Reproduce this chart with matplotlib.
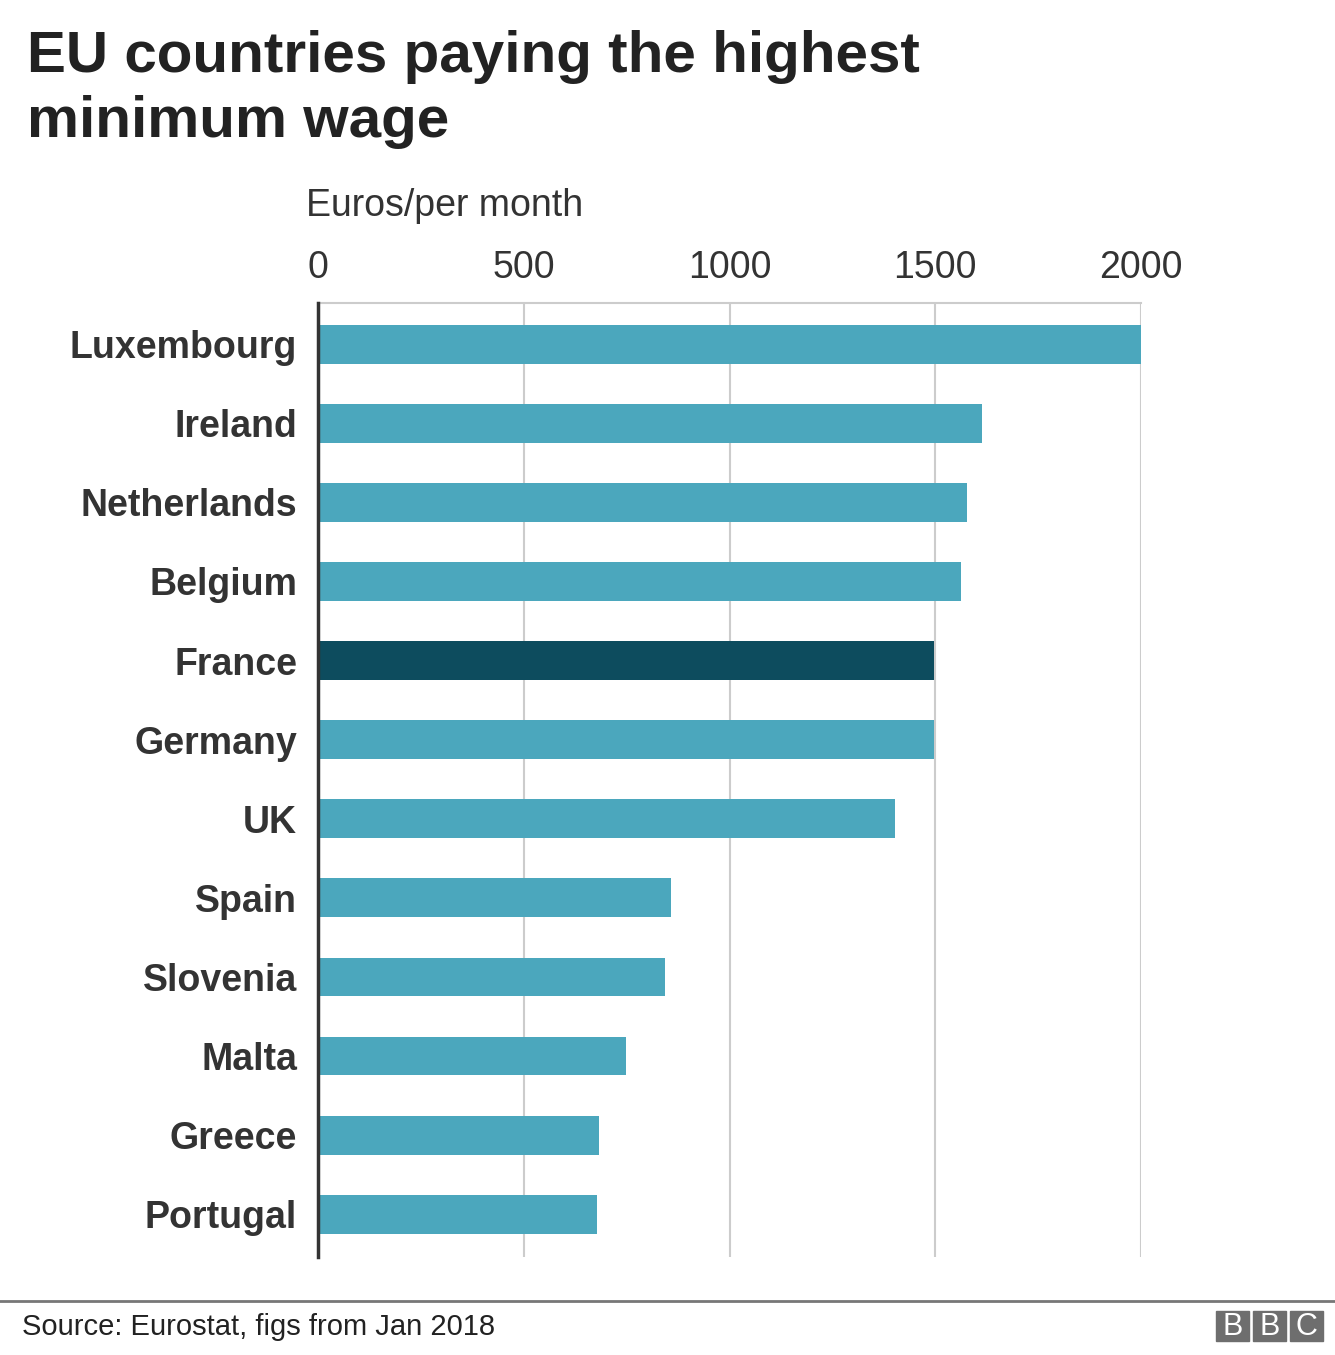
import matplotlib
matplotlib.use("Agg")
import matplotlib.pyplot as plt
from matplotlib.patches import Rectangle

plt.rcParams["font.family"] = ["Liberation Sans", "DejaVu Sans"]

# data (euros per month, Jan 2018)
countries = ["Luxembourg", "Ireland", "Netherlands", "Belgium", "France", "Germany",
             "UK", "Spain", "Slovenia", "Malta", "Greece", "Portugal"]
wages = [1999, 1614, 1578, 1563, 1498, 1498, 1401, 859, 843, 748, 684, 677]
highlight = "France"
ticks = [0, 500, 1000, 1500, 2000]

W, H = 1335, 1355
fig = plt.figure(figsize=(W / 100, H / 100), dpi=100)
fig.patch.set_facecolor("white")

# axes placed in pixel coords of the reference
left, right, top, bottom = 318, 1141, 303, 1257
ax = fig.add_axes([left / W, 1 - bottom / H, (right - left) / W, (bottom - top) / H])

colors = ["#0d4c5e" if c == highlight else "#4ba7bd" for c in countries]
ypos = list(range(len(countries)))
ax.barh(ypos, wages, height=0.49, color=colors, zorder=2)

ax.set_xlim(0, 2000)
ax.set_ylim(len(countries) - 0.46, -0.52)
ax.set_yticks(ypos)
ax.set_yticklabels(countries, fontsize=27, fontweight="bold", color="#333333")
ax.set_xticks(ticks)
ax.set_xticklabels([str(t) for t in ticks], fontsize=27, color="#333333")
ax.xaxis.tick_top()
ax.tick_params(axis="x", length=0, pad=12)
ax.tick_params(axis="y", length=0, pad=15)

ax.grid(axis="x", color="#cccccc", linewidth=1.5, zorder=0)
for s in ["right", "bottom"]:
    ax.spines[s].set_visible(False)
ax.spines["top"].set_color("#cccccc")
ax.spines["top"].set_linewidth(1.5)
ax.spines["left"].set_color("#333333")
ax.spines["left"].set_linewidth(2.5)
ax.spines["left"].set_zorder(3)

# titles
fig.text(27 / W, 1 - 72 / H, "EU countries paying the highest",
         fontsize=42, fontweight="bold", color="#222222", va="baseline", ha="left")
fig.text(27 / W, 1 - 137 / H, "minimum wage",
         fontsize=42, fontweight="bold", color="#222222", va="baseline", ha="left")
fig.text(306 / W, 1 - 216 / H, "Euros/per month", fontsize=27, color="#333333",
         va="baseline", ha="left")

# footer
fig.add_artist(plt.Line2D([0, 1], [1 - 1301 / H, 1 - 1301 / H], color="#777777",
                          linewidth=2, transform=fig.transFigure))
fig.text(22 / W, 1 - 1335 / H, "Source: Eurostat, figs from Jan 2018", fontsize=21,
         color="#222222", va="baseline", ha="left")

# BBC blocks
bx = 1216
for letter in "BBC":
    fig.add_artist(Rectangle((bx / W, 1 - 1341 / H), 33 / W, 30 / H,
                             transform=fig.transFigure, color="#6e6e6e"))
    fig.text((bx + 16.5) / W, 1 - 1335 / H, letter, fontsize=22,
             color="white", ha="center", va="baseline")
    bx += 37

fig.savefig("out.png", dpi=100, facecolor="white")
